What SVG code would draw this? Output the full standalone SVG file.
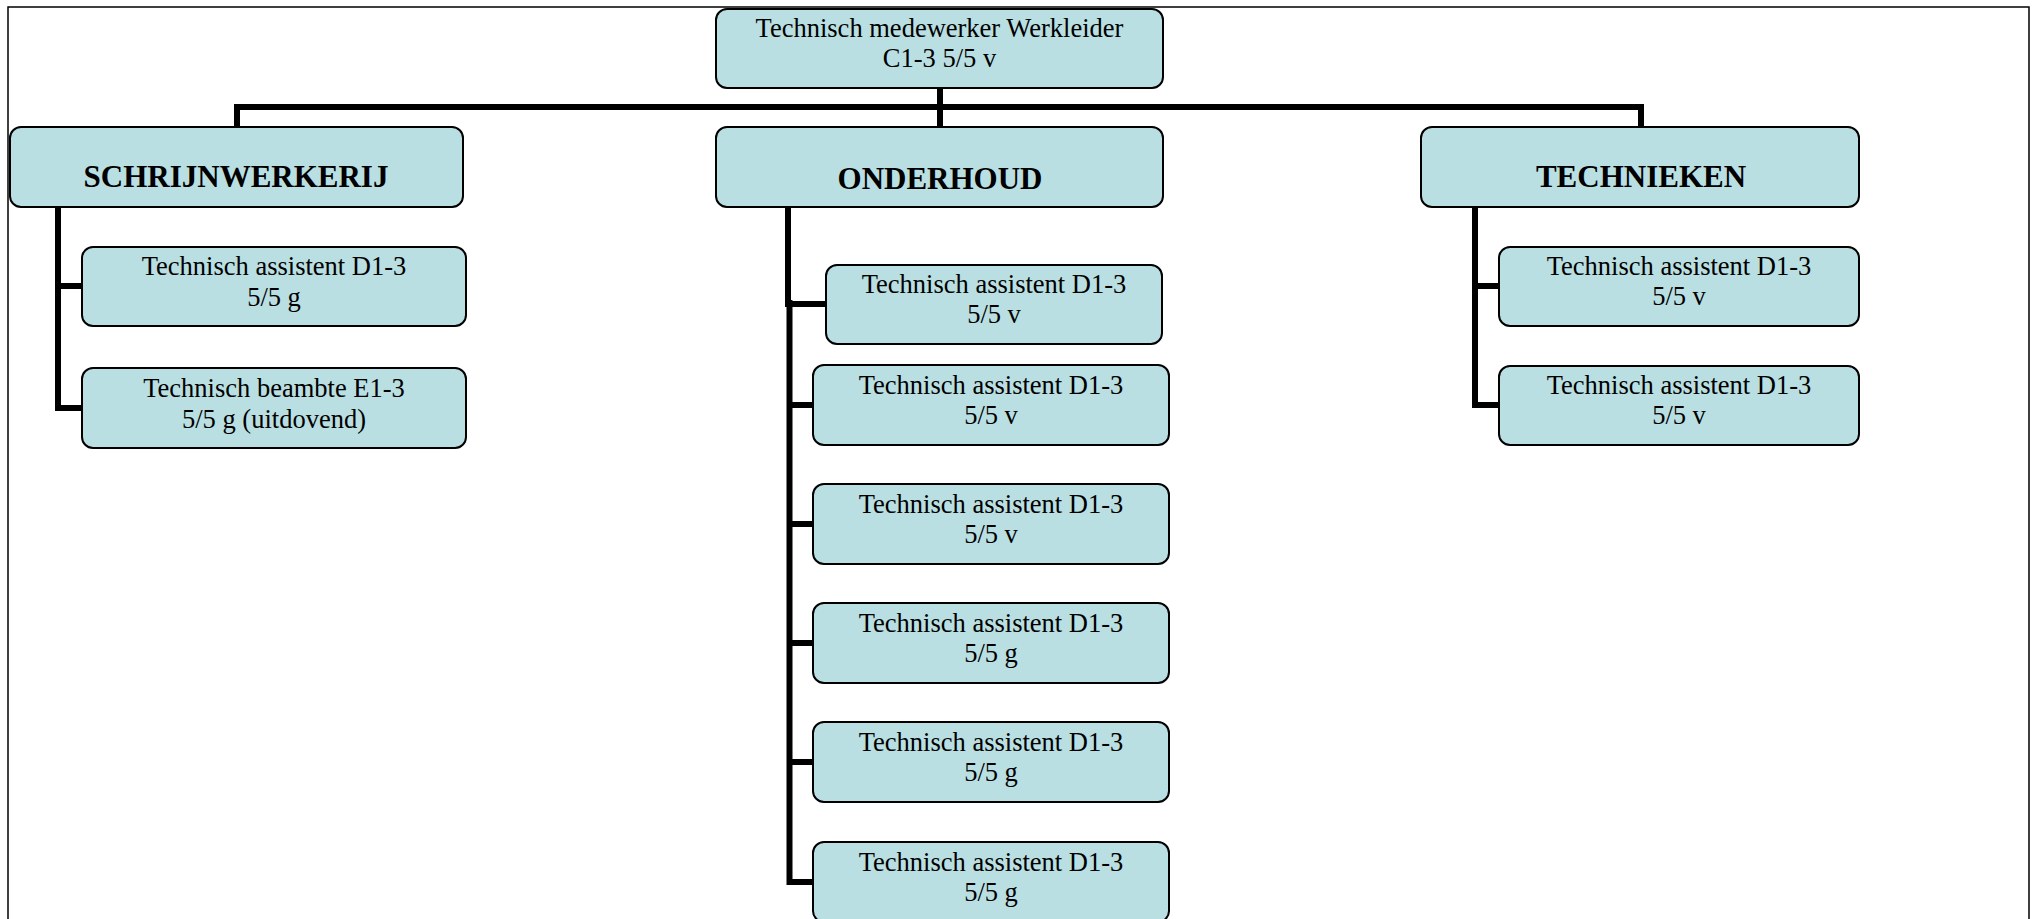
<svg xmlns="http://www.w3.org/2000/svg" width="2033" height="919" viewBox="0 0 2033 919">
<style>
.box{fill:#b9dfe2;stroke:#000;stroke-width:2}
.t{font-family:"Liberation Serif","Times New Roman",serif;font-size:26.5px;fill:#000;text-anchor:middle}
.h{font-family:"Liberation Serif","Times New Roman",serif;font-size:31px;font-weight:bold;fill:#000;text-anchor:middle}
.c{fill:none;stroke:#000;stroke-width:6;stroke-linejoin:miter;stroke-linecap:butt}
</style>
<rect x="0" y="0" width="2033" height="919" fill="#fff"/>
<rect x="8" y="7" width="2021" height="940" fill="none" stroke="#000" stroke-width="1.5"/>
<g id="connectors">
<path class="c" d="M237,127 V107 H1641 V127"/>
<path class="c" d="M940,88 V127"/>
<path class="c" d="M58,207 V408 H82 M58,286 H82"/>
<path class="c" stroke-width="10" d="M788,207 V307"/>
<path class="c" stroke-width="7" d="M789.5,300 V882 H813 M789.5,304 H826 M789.5,405 H813 M789.5,524 H813 M789.5,643 H813 M789.5,762 H813"/>
<path class="c" d="M1475,207 V405 H1499 M1475,286 H1499"/>
</g>
<g id="n-top"><rect class="box" x="716" y="9" width="447" height="79" rx="11"/><text class="t" x="939.5" y="37">Technisch medewerker Werkleider</text><text class="t" x="939.5" y="67">C1-3 5/5 v</text></g>
<g id="n-schrijnwerkerij"><rect class="box" x="10" y="127" width="453" height="80" rx="11"/><text class="h" x="236" y="187">SCHRIJNWERKERIJ</text></g>
<g id="n-onderhoud"><rect class="box" x="716" y="127" width="447" height="80" rx="11"/><text class="h" x="940" y="189">ONDERHOUD</text></g>
<g id="n-technieken"><rect class="box" x="1421" y="127" width="438" height="80" rx="11"/><text class="h" x="1641" y="187">TECHNIEKEN</text></g>
<g id="n-s1"><rect class="box" x="82" y="247" width="384" height="79" rx="11"/><text class="t" x="274" y="275">Technisch assistent D1-3</text><text class="t" x="274" y="306">5/5 g</text></g>
<g id="n-s2"><rect class="box" x="82" y="368" width="384" height="80" rx="11"/><text class="t" x="274" y="397">Technisch beambte E1-3</text><text class="t" x="274" y="428">5/5 g (uitdovend)</text></g>
<g id="n-o1"><rect class="box" x="826" y="265" width="336" height="79" rx="11"/><text class="t" x="994" y="293">Technisch assistent D1-3</text><text class="t" x="994" y="323">5/5 v</text></g>
<g id="n-o2"><rect class="box" x="813" y="365" width="356" height="80" rx="11"/><text class="t" x="991" y="394">Technisch assistent D1-3</text><text class="t" x="991" y="424">5/5 v</text></g>
<g id="n-o3"><rect class="box" x="813" y="484" width="356" height="80" rx="11"/><text class="t" x="991" y="513">Technisch assistent D1-3</text><text class="t" x="991" y="543">5/5 v</text></g>
<g id="n-o4"><rect class="box" x="813" y="603" width="356" height="80" rx="11"/><text class="t" x="991" y="632">Technisch assistent D1-3</text><text class="t" x="991" y="662">5/5 g</text></g>
<g id="n-o5"><rect class="box" x="813" y="722" width="356" height="80" rx="11"/><text class="t" x="991" y="751">Technisch assistent D1-3</text><text class="t" x="991" y="781">5/5 g</text></g>
<g id="n-o6"><rect class="box" x="813" y="842" width="356" height="80" rx="11"/><text class="t" x="991" y="871">Technisch assistent D1-3</text><text class="t" x="991" y="901">5/5 g</text></g>
<g id="n-t1"><rect class="box" x="1499" y="247" width="360" height="79" rx="11"/><text class="t" x="1679" y="275">Technisch assistent D1-3</text><text class="t" x="1679" y="305">5/5 v</text></g>
<g id="n-t2"><rect class="box" x="1499" y="366" width="360" height="79" rx="11"/><text class="t" x="1679" y="394">Technisch assistent D1-3</text><text class="t" x="1679" y="424">5/5 v</text></g>
</svg>
